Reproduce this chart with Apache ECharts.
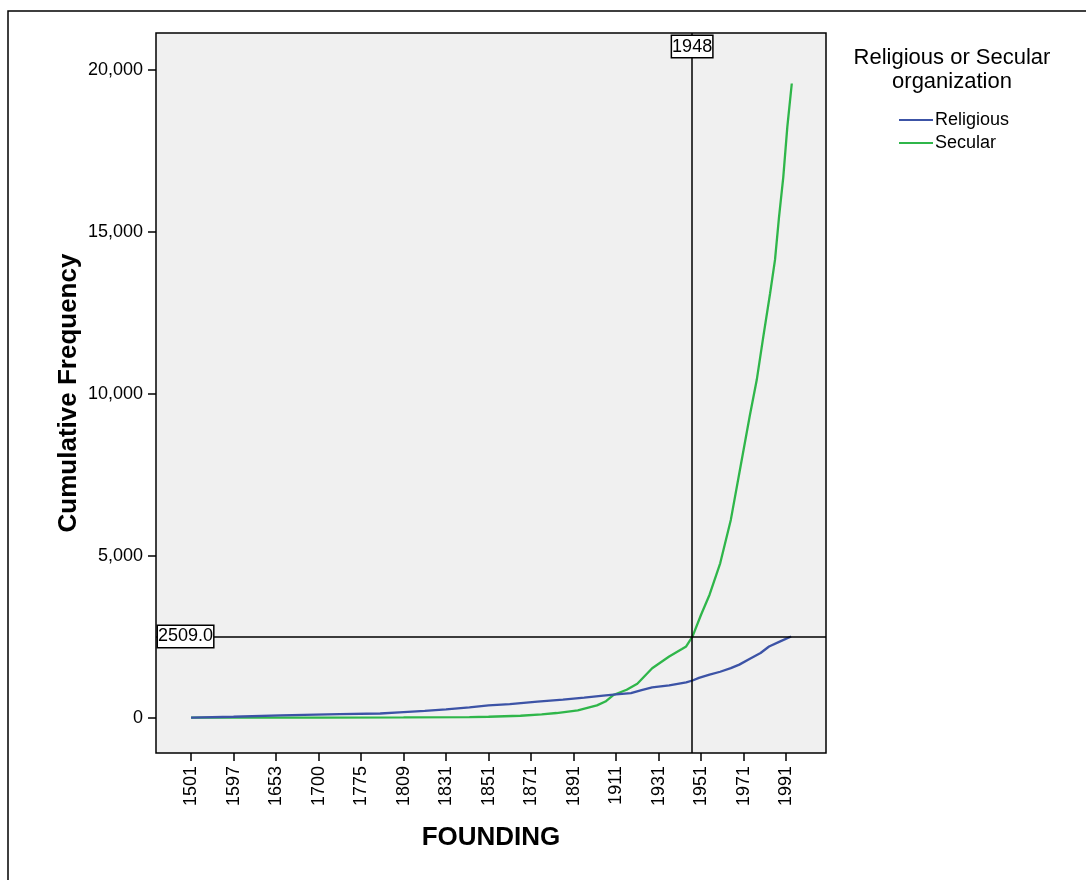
<!DOCTYPE html>
<html>
<head>
<meta charset="utf-8">
<script src="https://cdn.jsdelivr.net/npm/echarts@6/dist/echarts.min.js"></script>
<style>
html,body{margin:0;padding:0;background:#fff;}
#chart{width:1086px;height:880px;}
</style>
</head>
<body>
<div id="chart"></div>
<script>
// Tick labels (one every 20 category positions on the FOUNDING axis)
const tickLabels = ['1501','1597','1653','1700','1775','1809','1831','1851','1871','1891','1911','1931','1951','1971','1991'];
const tickPositions = [0,20,40,60,80,100,120,140,160,180,200,220,240,260,280];

// Religious: category position along axis, cumulative frequency
const religiousPos = [0,20,42,70,89,98,110,120,131,140,150,163,175,185,194,200,207,212,217,225,233,236,239,244,249,254,258,263,268,272,277,282.4];
const religiousCum = [0,30,70,110,130,165,210,260,320,380,420,500,560,620,680,720,760,850,935,1000,1090,1150,1230,1330,1420,1530,1640,1820,2000,2200,2350,2509];

// Secular
const secularPos = [0,60,100,131,140,155,165,172,182,191,195,199,205,210,217,225,231,233,236,240,244,249,254,258,263,266.2,269.3,272.5,274.8,276.7,278.7,280.6,282.7];
const secularCum = [0,5,10,20,30,60,100,145,225,380,500,710,865,1050,1530,1890,2120,2200,2510,3180,3800,4770,6110,7550,9350,10430,11770,13110,14140,15470,16700,18250,19590];

// Reference lines
const refYearPos = 235.8;
const refYearLabel = '1948';
const refValue = 2509;
const refValueLabel = '2509.0';

const yTicks = [0,5000,10000,15000,20000];
const seriesNames = ['Religious','Secular'];
const legendTitle = 'Religious or Secular\norganization';

const xMin = -16.5, xMax = 298.8, yMin = -1090, yMax = 21150;

const chart = echarts.init(document.getElementById('chart'), null, {renderer:'canvas'});
const FONT = '"Liberation Sans", Arial, sans-serif';

function pairs(xs, ys){ return xs.map((x,i)=>[x, ys[i]]); }

const boxLabel = {
  show: true,
  color: '#000',
  fontFamily: FONT,
  fontSize: 18,
  backgroundColor: '#fff',
  borderColor: '#000',
  borderWidth: 1.5,
  padding: [2, 0, 1, 0]
};

chart.setOption({
  animation: false,
  backgroundColor: '#fff',
  textStyle: {fontFamily: FONT},
  graphic: [
    {type:'rect', shape:{x:8, y:11, width:1100, height:900}, style:{fill:'none', stroke:'#000', lineWidth:1.5}, silent:true},
    {type:'text', x: 952, y: 46, style:{text: legendTitle, fontFamily: FONT, fontSize: 22, fill:'#000', align:'center', verticalAlign:'top', lineHeight: 24}, silent:true}
  ],
  legend: {
    orient: 'vertical',
    left: 894,
    top: 106,
    itemWidth: 34,
    itemHeight: 2,
    itemGap: 5,
    icon: 'rect',
    textStyle: {fontFamily: FONT, fontSize: 18, color:'#000', padding:[0,0,0,-3]},
    data: seriesNames
  },
  grid: {
    left: 156, top: 33, right: 260, bottom: 127,
    show: true, backgroundColor: '#f0f0f0', borderColor: '#000', borderWidth: 1.5
  },
  xAxis: {
    type: 'value',
    min: xMin, max: xMax,
    name: 'FOUNDING',
    nameLocation: 'middle',
    nameGap: 72,
    nameMoveOverlap: false,
    nameTextStyle: {fontFamily: FONT, fontSize: 26, fontWeight: 'bold', color:'#000'},
    splitLine: {show:false},
    axisLine: {show:false, onZero:false},
    axisTick: {show:true, length: 8, lineStyle:{color:'#000', width:1.5}, customValues: tickPositions},
    axisLabel: {
      rotate: 90, fontSize: 18, color:'#000', margin: 13, fontFamily: FONT,
      customValues: tickPositions,
      formatter: v => tickLabels[Math.round(v/20)] || ''
    }
  },
  yAxis: {
    type: 'value',
    min: yMin, max: yMax,
    name: 'Cumulative Frequency',
    nameLocation: 'middle',
    nameGap: 74,
    nameMoveOverlap: false,
    nameTextStyle: {fontFamily: FONT, fontSize: 26, fontWeight: 'bold', color:'#000'},
    splitLine: {show:false},
    axisLine: {show:false, onZero:false},
    axisTick: {show:true, length: 8, lineStyle:{color:'#000', width:1.5}, customValues: yTicks},
    axisLabel: {
      fontSize: 18, color:'#000', margin: 13, fontFamily: FONT,
      customValues: yTicks,
      formatter: v => v.toLocaleString('en-US')
    }
  },
  series: [
    {
      name: seriesNames[0], type: 'line', showSymbol: false, symbol: 'none',
      data: pairs(religiousPos, religiousCum),
      lineStyle: {color:'#3c53a6', width: 2.3},
      itemStyle: {color:'#3c53a6'},
      z: 3
    },
    {
      name: seriesNames[1], type: 'line', showSymbol: false, symbol: 'none',
      data: pairs(secularPos, secularCum),
      lineStyle: {color:'#2fb64a', width: 2.3},
      itemStyle: {color:'#2fb64a'},
      z: 2,
      markLine: {
        silent: true, symbol: ['none','none'],
        lineStyle: {color:'#000', width: 1.5, type:'solid'},
        label: {show:false},
        data: [{xAxis: refYearPos}, {yAxis: refValue}]
      },
      markPoint: {
        silent: true,
        symbol: 'circle', symbolSize: 0,
        data: [
          {coord: [refYearPos, yMax], label: Object.assign({}, boxLabel, {position:'bottom', distance: 3, formatter: refYearLabel})},
          {coord: [xMin, refValue], label: Object.assign({}, boxLabel, {position:'right', distance: 2, formatter: refValueLabel})}
        ]
      }
    }
  ]
});
</script>
</body>
</html>
